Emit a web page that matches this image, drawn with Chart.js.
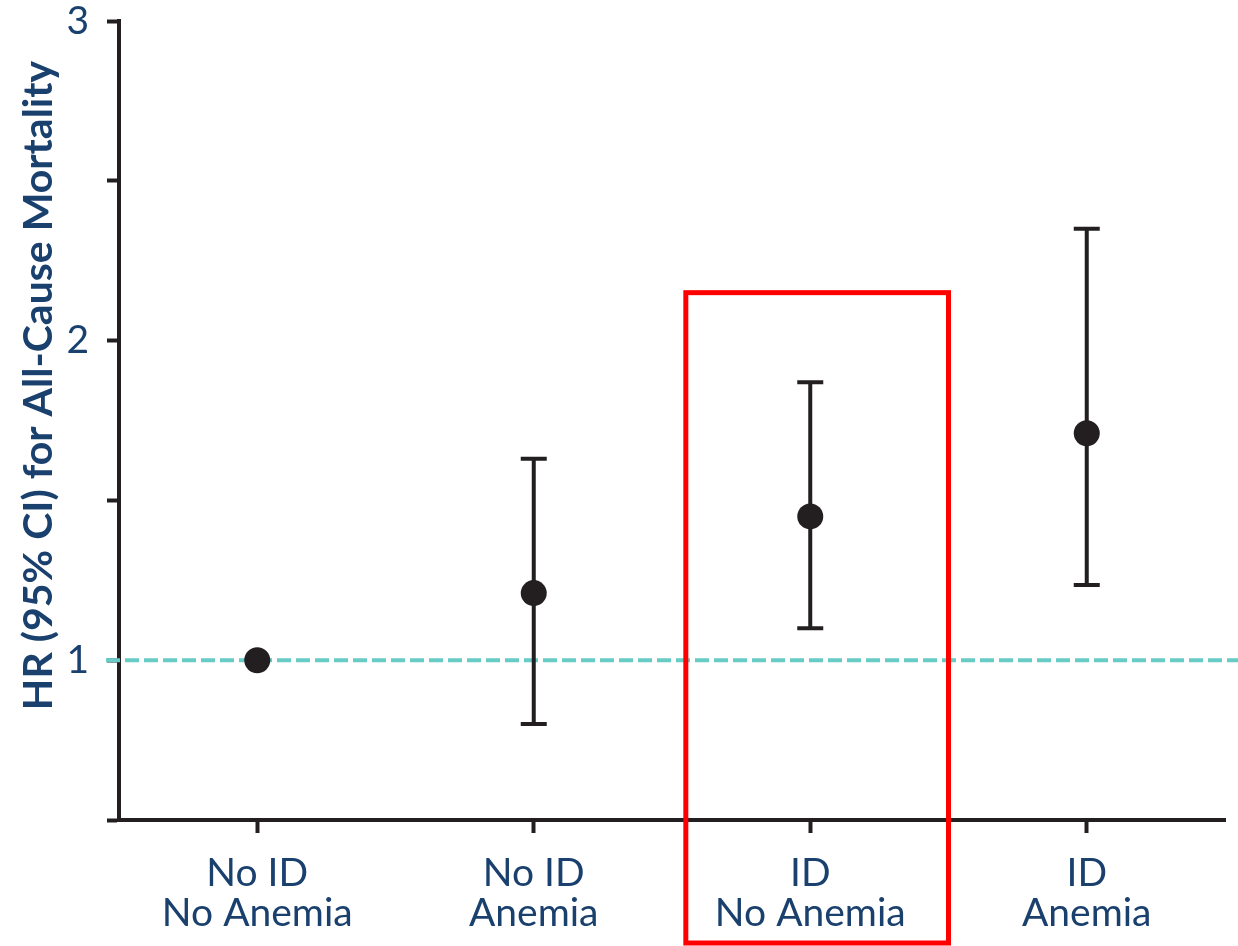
<!DOCTYPE html>
<html lang="en">
<head>
    <meta charset="UTF-8">
    <title>HR (95% CI) for All-Cause Mortality</title>
    <script src="https://cdn.jsdelivr.net/npm/chart.js"></script>
    <style>
        body {
            margin: 0;
            padding: 0;
            background: #ffffff;
        }

        .chart-box {
            position: relative;
            width: 1238px;
            height: 946px;
        }
    </style>
</head>
<body>

    <div class="chart-box">
        <canvas id="hrChart"></canvas>
    </div>

    <script>
        // Datos
        const categories = [['No ID', 'No Anemia'], ['No ID', 'Anemia'], ['ID', 'No Anemia'], ['ID', 'Anemia']];
        const hazardRatios = [1.00, 1.21, 1.45, 1.71];
        const ciLower = [null, 0.80, 1.10, 1.235];
        const ciUpper = [null, 1.63, 1.87, 2.35];
        const yTickLabels = [1, 2, 3];
        const referenceHR = 1;
        const yTitle = 'HR (95% CI) for All-Cause Mortality';

        const navy = '#1a406e';
        const ink = '#231f20';
        const fontFamily = 'Lato, "Open Sans", sans-serif';

        // Línea de referencia HR = 1 (discontinua)
        const referenceLine = {
            id: 'referenceLine',
            beforeDatasetsDraw(chart) {
                const { ctx, chartArea, scales: { y } } = chart;
                const py = y.getPixelForValue(referenceHR);
                ctx.save();
                ctx.strokeStyle = '#66ccc5';
                ctx.lineWidth = 4;
                ctx.setLineDash([14, 5]);
                ctx.beginPath();
                ctx.moveTo(chartArea.left - 13, py);
                ctx.lineTo(chart.width, py);
                ctx.stroke();
                ctx.restore();
            }
        };

        // Barras de error (IC 95%)
        const errorBars = {
            id: 'errorBars',
            beforeDatasetsDraw(chart) {
                const { ctx, scales: { x, y } } = chart;
                ctx.save();
                ctx.strokeStyle = ink;
                ctx.lineWidth = 4;
                hazardRatios.forEach((v, i) => {
                    if (ciLower[i] == null || ciUpper[i] == null) return;
                    const px = x.getPixelForValue(i);
                    const yLo = y.getPixelForValue(ciLower[i]);
                    const yHi = y.getPixelForValue(ciUpper[i]);
                    ctx.beginPath();
                    ctx.moveTo(px, yLo);
                    ctx.lineTo(px, yHi);
                    ctx.moveTo(px - 13, yLo);
                    ctx.lineTo(px + 13, yLo);
                    ctx.moveTo(px - 13, yHi);
                    ctx.lineTo(px + 13, yHi);
                    ctx.stroke();
                });
                ctx.restore();
            }
        };

        // Título del eje Y (algo desplazado hacia arriba como en el original)
        const axisTitle = {
            id: 'axisTitle',
            afterDraw(chart) {
                const { ctx, chartArea } = chart;
                const cy = (chartArea.top + chartArea.bottom) / 2 - 35;
                ctx.save();
                ctx.translate(39, cy);
                ctx.rotate(-Math.PI / 2);
                ctx.fillStyle = navy;
                ctx.font = 'bold 41px ' + fontFamily;
                ctx.textAlign = 'center';
                ctx.textBaseline = 'middle';
                ctx.fillText(yTitle, 0, 0);
                ctx.restore();
            }
        };

        // Recuadro rojo alrededor de "ID / No Anemia"
        const highlightBox = {
            id: 'highlightBox',
            afterDraw(chart) {
                const { ctx, scales: { x, y } } = chart;
                const step = x.getPixelForValue(1) - x.getPixelForValue(0);
                const cx = x.getPixelForValue(2);
                const left = cx - step * 0.45;
                const right = cx + step * 0.5;
                const top = y.getPixelForValue(2.15);
                const bottom = chart.height - 3;
                ctx.save();
                ctx.strokeStyle = '#ff0000';
                ctx.lineWidth = 5;
                ctx.strokeRect(left, top, right - left, bottom - top);
                ctx.restore();
            }
        };

        new Chart(document.getElementById('hrChart'), {
            type: 'line',
            data: {
                labels: categories,
                datasets: [{
                    data: hazardRatios,
                    showLine: false,
                    pointRadius: 13,
                    pointHoverRadius: 13,
                    pointBorderWidth: 0,
                    pointBackgroundColor: ink
                }]
            },
            options: {
                responsive: true,
                maintainAspectRatio: false,
                animation: false,
                layout: {
                    padding: { top: 21, right: 5, left: 0, bottom: 0 }
                },
                plugins: {
                    legend: { display: false },
                    tooltip: { enabled: false }
                },
                scales: {
                    x: {
                        offset: true,
                        border: { display: true, color: ink, width: 4 },
                        grid: {
                            drawOnChartArea: false,
                            drawTicks: true,
                            tickLength: 13,
                            tickWidth: 4,
                            tickColor: ink
                        },
                        ticks: {
                            color: navy,
                            padding: 20,
                            maxRotation: 0,
                            font: { family: fontFamily, size: 39, lineHeight: 1.03 }
                        },
                        afterFit(scale) {
                            scale.height = 126;
                        }
                    },
                    y: {
                        min: 0.5,
                        max: 3,
                        border: { display: true, color: ink, width: 4 },
                        grid: {
                            drawOnChartArea: false,
                            drawTicks: true,
                            tickLength: 12,
                            tickWidth: 4,
                            tickColor: ink
                        },
                        ticks: {
                            stepSize: 0.5,
                            color: navy,
                            padding: 18,
                            font: { family: fontFamily, size: 39, lineHeight: 1 },
                            callback: (value) => yTickLabels.includes(value) ? String(value) : ''
                        },
                        afterFit(scale) {
                            scale.width = 119;
                            scale.paddingTop = 0;
                            scale.paddingBottom = 0;
                        }
                    }
                }
            },
            plugins: [referenceLine, errorBars, axisTitle, highlightBox]
        });
    </script>
</body>
</html>
